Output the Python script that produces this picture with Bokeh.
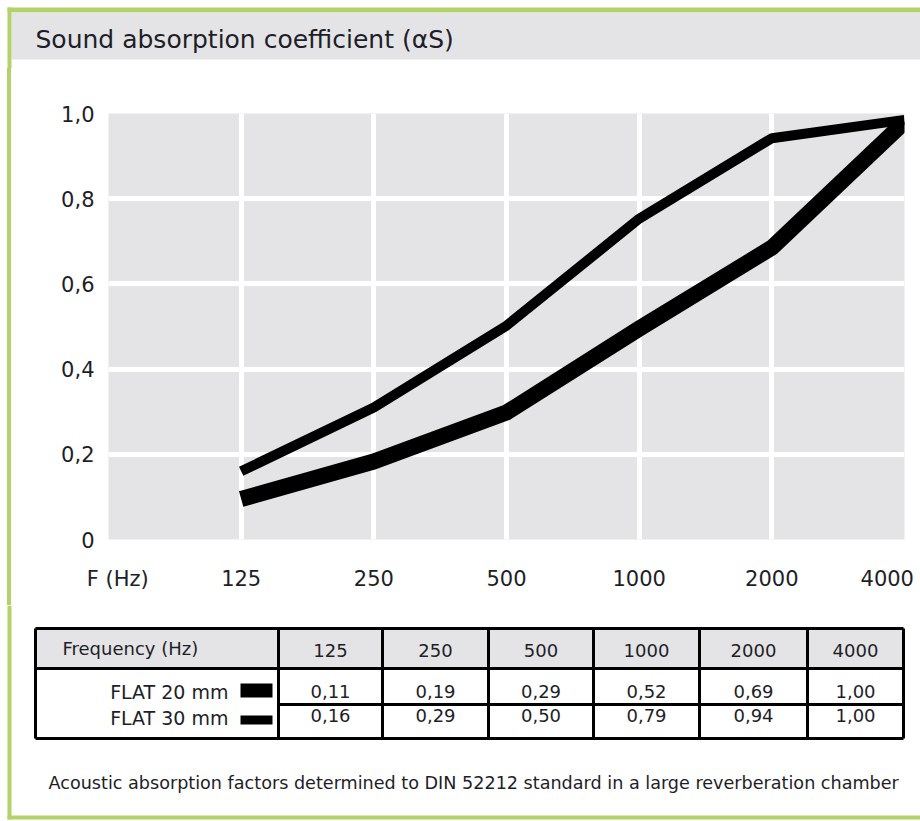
from bokeh.plotting import figure
from bokeh.models import Range1d, FixedTicker, ColumnDataSource
from bokeh.core.properties import value
from bokeh.embed import file_html
from bokeh.resources import INLINE

# ---------------- data ----------------
TITLE = "Sound absorption coefficient (αS)"
FREQS = ["125", "250", "500", "1000", "2000", "4000"]
X_AXIS_NAME = "F (Hz)"
Y_TICKS = [0, 0.2, 0.4, 0.6, 0.8, 1.0]
Y_TICK_LABELS = ["0", "0,2", "0,4", "0,6", "0,8", "1,0"]
SERIES = ["FLAT 20 mm", "FLAT 30 mm"]
# values as drawn in the curves
CURVE_20 = [0.095, 0.183, 0.298, 0.495, 0.685, 0.98]
CURVE_30 = [0.16, 0.31, 0.502, 0.753, 0.942, 0.985]
# values printed in the table
TABLE_20 = [0.11, 0.19, 0.29, 0.52, 0.69, 1.00]
TABLE_30 = [0.16, 0.29, 0.50, 0.79, 0.94, 1.00]
TABLE_HEADER = "Frequency (Hz)"
FOOTNOTE = "Acoustic absorption factors determined to DIN 52212 standard in a large reverberation chamber"

# ---------------- style ----------------
FONT = "DejaVu Sans"
GREEN = "#b3d36a"
GRAY = "#e4e4e6"
TXT = "#1e1e28"
W = 920
BL, BR = 7, 11  # left green border


def canvas_fig(h, w=W):
    f = figure(width=w, height=h, x_range=Range1d(0, w), y_range=Range1d(h, 0),
               x_axis_type=None, y_axis_type=None, min_border=0,
               output_backend="svg", toolbar_location=None)
    f.outline_line_color = None
    f.background_fill_color = "white"
    f.border_fill_color = "white"
    f.grid.visible = False
    return f


# ---------------- header band with title ----------------
HH = 68
head = canvas_fig(HH)
head.quad(left=BL, right=W, top=7, bottom=12, fill_color=GREEN, line_color=None)
head.quad(left=BR, right=W, top=12, bottom=59, fill_color=GRAY, line_color=None)
head.quad(left=BL, right=BR, top=7, bottom=HH, fill_color=GREEN, line_color=None)
head.text(x=[35], y=[39], text=[TITLE], text_font=value(FONT), text_font_size=value("25px"),
          text_color=TXT, text_baseline="middle", text_align="left")

# ---------------- main chart ----------------
xs = list(range(len(FREQS)))
p = figure(frame_width=796, frame_height=426, min_border_left=108, min_border_right=16,
           min_border_top=113 - HH, min_border_bottom=66,
           x_range=Range1d(-1, len(FREQS) - 1), y_range=Range1d(0, 1.0),
           output_backend="svg", toolbar_location=None)
p.background_fill_color = GRAY
p.border_fill_color = None
p.outline_line_color = None
p.styles = {"background": f"linear-gradient(to right, #ffffff {BL}px, {GREEN} {BL}px, "
                          f"{GREEN} {BR}px, #ffffff {BR}px)"}

p.line(xs, CURVE_20, line_color="black", line_width=16, line_join="round", line_cap="butt")
p.line(xs, CURVE_30, line_color="black", line_width=10, line_join="round", line_cap="butt")

AXIS_NAME_POS = -0.93
LAST_LABEL_SHIFT = -0.13
xtick_pos = [AXIS_NAME_POS] + xs[:-1] + [xs[-1] + LAST_LABEL_SHIFT]
xtick_lab = [X_AXIS_NAME] + FREQS
p.xaxis.ticker = FixedTicker(ticks=xtick_pos)
p.xaxis.major_label_overrides = dict(zip(xtick_pos, xtick_lab))
p.yaxis.ticker = FixedTicker(ticks=Y_TICKS)
p.yaxis.major_label_overrides = dict(zip(Y_TICKS, Y_TICK_LABELS))

for ax in (p.xaxis, p.yaxis):
    ax.axis_line_color = None
    ax.major_tick_line_color = None
    ax.minor_tick_line_color = None
    ax.major_tick_out = 0
    ax.major_tick_in = 0
    ax.major_label_text_font = FONT
    ax.major_label_text_font_size = "21px"
    ax.major_label_text_color = TXT
p.xaxis.major_label_standoff = 27
p.yaxis.major_label_standoff = 14

p.xgrid.ticker = FixedTicker(ticks=xs[:-1])
p.ygrid.ticker = FixedTicker(ticks=Y_TICKS[1:-1])
p.grid.grid_line_color = "white"
p.grid.grid_line_width = 5

# ---------------- table + footnote ----------------
H = 216
bot = canvas_fig(H)
edges = [35, 278, 382, 488, 593, 699, 807, 903]
t_top, t_head, t_mid, t_bot = 23, 63, 99, 133

bot.quad(left=BL, right=BR, top=0, bottom=214, fill_color=GREEN, line_color=None)
bot.quad(left=BL, right=W, top=210, bottom=214, fill_color=GREEN, line_color=None)
bot.quad(left=edges[0], right=edges[-1], top=t_top, bottom=t_head, fill_color=GRAY, line_color=None)
# legend swatches
bot.quad(left=[240, 240], right=[272, 272], top=[78, 110], bottom=[92, 119],
         fill_color="black", line_color=None)
# table rules
vx = edges
bot.segment(x0=vx, y0=[t_top] * len(vx), x1=vx, y1=[t_bot] * len(vx), line_color="black", line_width=3)
bot.segment(x0=[edges[0]] * 3 + [edges[1]], y0=[t_top, t_head, t_bot, t_mid],
            x1=[edges[-1]] * 4, y1=[t_top, t_head, t_bot, t_mid], line_color="black", line_width=3)

centers = [(edges[i + 1] + edges[i + 2]) / 2 for i in range(len(FREQS))]
fmt = lambda v: f"{v:.2f}".replace(".", ",")
src = ColumnDataSource(dict(
    x=centers * 3,
    y=[45] * len(FREQS) + [86] * len(FREQS) + [110] * len(FREQS),
    t=FREQS + [fmt(v) for v in TABLE_20] + [fmt(v) for v in TABLE_30],
))
bot.text(x="x", y="y", text="t", source=src, text_font=value(FONT), text_font_size=value("18px"),
         text_color=TXT, text_align="center", text_baseline="middle")
bot.text(x=[62], y=[43], text=[TABLE_HEADER], text_font=value(FONT), text_font_size=value("18px"),
         text_color=TXT, text_align="left", text_baseline="middle")
bot.text(x=[228, 228], y=[86, 112], text=SERIES, text_font=value(FONT), text_font_size=value("19px"),
         text_color=TXT, text_align="right", text_baseline="middle")
bot.text(x=[48], y=[177], text=[FOOTNOTE], text_font=value(FONT), text_font_size=value("17.6px"),
         text_color=TXT, text_align="left", text_baseline="middle")

open("out.html", "w").write(file_html([head, p, bot], INLINE))
